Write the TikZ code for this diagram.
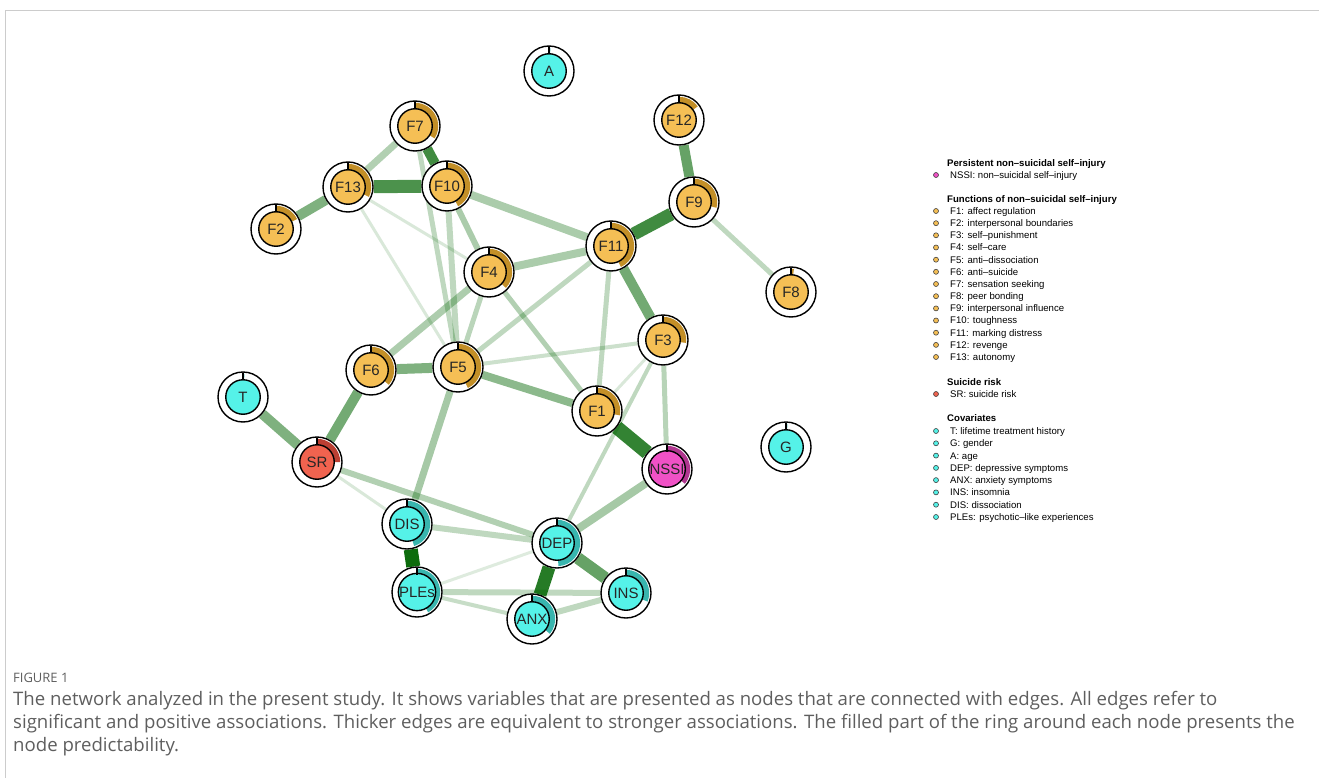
\documentclass[tikz,border=0pt]{standalone}
\usepackage{fontspec}
\setmainfont{Liberation Sans}
\newfontfamily\capfont{Open Sans}
\usetikzlibrary{backgrounds}
\definecolor{egreen}{RGB}{0,100,0}
\definecolor{fgold}{HTML}{F5BF55}
\definecolor{dgold}{HTML}{C38F27}
\definecolor{fcyan}{HTML}{55F2E8}
\definecolor{dcyan}{HTML}{38B5AE}
\definecolor{fred}{HTML}{F0634F}
\definecolor{dred}{HTML}{BB3F33}
\definecolor{fmag}{HTML}{F051C6}
\definecolor{dmag}{HTML}{B0368F}
\definecolor{capgray}{HTML}{5E5E5E}
\definecolor{framegray}{HTML}{CCCCCC}
\tikzset{
 outerc/.style={circle, draw=black, line width=1.4pt, fill=white, minimum size=50pt, inner sep=0pt},
 innerc/.style={circle, draw=black, line width=1.4pt, minimum size=34.5pt, inner sep=0pt, font=\fontsize{15}{18}\selectfont, text=black!85},
 cn/.style 2 args={line width=#1pt, draw=egreen, draw opacity=#2},
 lhead/.style={anchor=base west, font=\fontsize{9.6}{11}\selectfont\bfseries, inner sep=0pt},
 litem/.style={anchor=base west, font=\fontsize{9.6}{11}\selectfont, inner sep=0pt},
 lbul/.style={circle, draw=black!75, line width=0.6pt, minimum size=5pt, inner sep=0pt},
 captext/.style={anchor=base west, inner sep=0pt, font=\capfont\fontsize{18.6}{20}\selectfont, text=capgray},
}
\newcommand\vnode[7]{%
  \node[outerc] (#1) at (#2,-#3) {};
  \fill[#6] ([shift={(90:17)}]#1.center) arc[start angle=90, delta angle={-360*#7}, radius=17]
     -- ([shift={({90-360*#7}:23.2)}]#1.center) arc[start angle={90-360*#7}, delta angle={360*#7}, radius=23.2] -- cycle;
  \node[innerc, fill=#5] (#1l) at (#1) {#4};
  \draw[line width=1.3pt] ([shift={(90:17.5)}]#1.center) -- ([shift={(90:24.5)}]#1.center);
}
\newcommand\litemrow[4]{% name y color text
  \node[lbul, fill=#3] (#1b) at (936,-#2) {};
  \node[litem] (#1t) at (950,-#2-3.4) {#4};
}
\begin{document}
\begin{tikzpicture}[x=1pt,y=1pt]
\useasboundingbox (0,0) rectangle (1319,-778);
\draw[framegray, line width=1pt] (5,-778) -- (5,-11) -- (1319,-11);

% nodes
\vnode{A}{549}{71}{A}{fcyan}{dcyan}{0.01}
\vnode{F7}{415}{126}{F7}{fgold}{dgold}{0.34}
\vnode{F12}{679}{120}{F12}{fgold}{dgold}{0.15}
\vnode{F13}{348}{187}{F13}{fgold}{dgold}{0.32}
\vnode{F10}{447}{186}{F10}{fgold}{dgold}{0.42}
\vnode{F9}{694}{202}{F9}{fgold}{dgold}{0.29}
\vnode{F2}{276}{229}{F2}{fgold}{dgold}{0.18}
\vnode{F11}{611}{246}{F11}{fgold}{dgold}{0.43}
\vnode{F4}{489}{272}{F4}{fgold}{dgold}{0.37}
\vnode{F8}{791}{292}{F8}{fgold}{dgold}{0.02}
\vnode{F3}{663}{340}{F3}{fgold}{dgold}{0.27}
\vnode{F6}{371}{370}{F6}{fgold}{dgold}{0.36}
\vnode{F5}{458}{367}{F5}{fgold}{dgold}{0.43}
\vnode{T}{243}{397}{T}{fcyan}{dcyan}{0.01}
\vnode{F1}{597}{411}{F1}{fgold}{dgold}{0.28}
\vnode{G}{786}{447}{G}{fcyan}{dcyan}{0.01}
\vnode{NSSI}{667}{469}{NSSI}{fmag}{dmag}{0.36}
\vnode{SR}{317}{462}{SR}{fred}{dred}{0.25}
\vnode{DIS}{407}{524}{DIS}{fcyan}{dcyan}{0.45}
\vnode{DEP}{557}{543}{DEP}{fcyan}{dcyan}{0.49}
\vnode{PLEs}{417}{592}{PLEs}{fcyan}{dcyan}{0.42}
\vnode{INS}{626}{593}{INS}{fcyan}{dcyan}{0.31}
\vnode{ANX}{532}{619}{ANX}{fcyan}{dcyan}{0.36}

% edges
\begin{scope}[on background layer]
\draw[cn={3}{0.15}] (F13) -- (F5);
\draw[cn={3}{0.15}] (F13) -- (F4);
\draw[cn={3}{0.15}] (F3) -- (F1);
\draw[cn={3}{0.15}] (SR) -- (DIS);
\draw[cn={3}{0.13}] (PLEs) -- (DEP);
\draw[cn={4}{0.2}] (F3) -- (F5);
\draw[cn={4}{0.25}] (F3) -- (DEP);
\draw[cn={4}{0.22}] (PLEs) -- (ANX);
\draw[cn={5}{0.25}] (F7) -- (F5);
\draw[cn={6}{0.25}] (F10) -- (F5);
\draw[cn={5}{0.27}] (F4) -- (F5);
\draw[cn={5}{0.3}] (F4) -- (F1);
\draw[cn={5}{0.25}] (F11) -- (F5);
\draw[cn={5}{0.25}] (F11) -- (F1);
\draw[cn={5}{0.28}] (F3) -- (NSSI);
\draw[cn={5}{0.25}] (F9) -- (F8);
\draw[cn={6}{0.3}] (SR) -- (DEP);
\draw[cn={6}{0.25}] (DIS) -- (DEP);
\draw[cn={6}{0.25}] (PLEs) -- (INS);
\draw[cn={6}{0.25}] (ANX) -- (INS);
\draw[cn={7}{0.3}] (F7) -- (F13);
\draw[cn={6}{0.33}] (F10) -- (F4);
\draw[cn={8}{0.33}] (F10) -- (F11);
\draw[cn={8}{0.33}] (F4) -- (F11);
\draw[cn={7}{0.32}] (F6) -- (F4);
\draw[cn={7}{0.35}] (F5) -- (DIS);
\draw[cn={8}{0.35}] (NSSI) -- (DEP);
\draw[cn={8}{0.45}] (F5) -- (F1);
\draw[cn={10}{0.5}] (F6) -- (F5);
\draw[cn={10}{0.5}] (T) -- (SR);
\draw[cn={10}{0.55}] (F6) -- (SR);
\draw[cn={10}{0.55}] (F11) -- (F3);
\draw[cn={10}{0.5}] (F13) -- (F2);
\draw[cn={12}{0.6}] (DEP) -- (INS);
\draw[cn={10}{0.6}] (F12) -- (F9);
\draw[cn={10}{0.75}] (F7) -- (F10);
\draw[cn={13}{0.7}] (F13) -- (F10);
\draw[cn={13}{0.75}] (F9) -- (F11);
\draw[cn={13}{0.85}] (DEP) -- (ANX);
\draw[cn={14}{0.8}] (F1) -- (NSSI);
\draw[cn={14}{0.95}] (DIS) -- (PLEs);
\end{scope}

% legend
\node[lhead] (h1) at (947,-166.5) {Persistent non–suicidal self–injury};
\litemrow{lNSSI}{175}{fmag}{NSSI: non–suicidal self–injury}
\node[lhead] (h2) at (947,-202.5) {Functions of non–suicidal self–injury};
\litemrow{lF1}{211}{fgold}{F1: affect regulation}
\litemrow{lF2}{223.2}{fgold}{F2: interpersonal boundaries}
\litemrow{lF3}{235.3}{fgold}{F3: self–punishment}
\litemrow{lF4}{247.5}{fgold}{F4: self–care}
\litemrow{lF5}{259.7}{fgold}{F5: anti–dissociation}
\litemrow{lF6}{271.8}{fgold}{F6: anti–suicide}
\litemrow{lF7}{284}{fgold}{F7: sensation seeking}
\litemrow{lF8}{296.2}{fgold}{F8: peer bonding}
\litemrow{lF9}{308.4}{fgold}{F9: interpersonal influence}
\litemrow{lF10}{320.5}{fgold}{F10: toughness}
\litemrow{lF11}{332.7}{fgold}{F11: marking distress}
\litemrow{lF12}{344.9}{fgold}{F12: revenge}
\litemrow{lF13}{357}{fgold}{F13: autonomy}
\node[lhead] (h3) at (947,-385.5) {Suicide risk};
\litemrow{lSR}{394}{fred}{SR: suicide risk}
\node[lhead] (h4) at (947,-421.5) {Covariates};
\litemrow{lT}{431}{fcyan}{T: lifetime treatment history}
\litemrow{lG}{443.3}{fcyan}{G: gender}
\litemrow{lA}{455.6}{fcyan}{A: age}
\litemrow{lDEP}{467.9}{fcyan}{DEP: depressive symptoms}
\litemrow{lANX}{480.1}{fcyan}{ANX: anxiety symptoms}
\litemrow{lINS}{492.4}{fcyan}{INS: insomnia}
\litemrow{lDIS}{504.7}{fcyan}{DIS: dissociation}
\litemrow{lPLEs}{517}{fcyan}{PLEs: psychotic–like experiences}

% caption
\node[anchor=base west, inner sep=0pt, font=\capfont\fontsize{13}{15}\selectfont, text=capgray] (figlab) at (13,-682) {FIGURE 1};
\node[captext] (cap1) at (13,-705.5) {The network analyzed in the present study. It shows variables that are presented as nodes that are connected with edges. All edges refer to};
\node[captext] (cap2) at (13,-728.5) {significant and positive associations. Thicker edges are equivalent to stronger associations. The filled part of the ring around each node presents the};
\node[captext] (cap3) at (13,-751.5) {node predictability.};
\end{tikzpicture}
\end{document}
